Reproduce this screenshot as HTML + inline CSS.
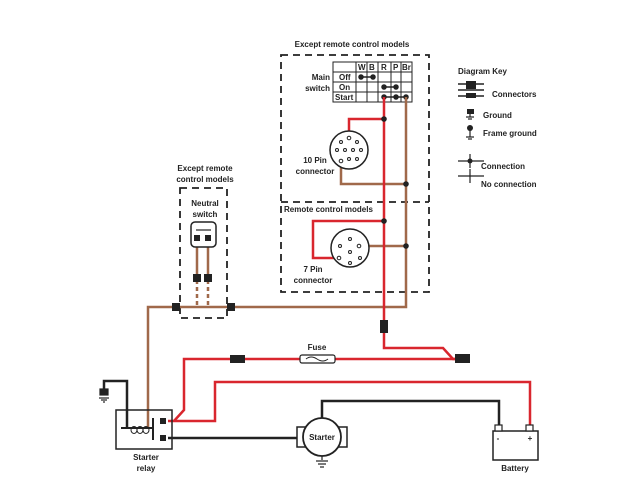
<!DOCTYPE html>
<html><head><style>body{margin:0;background:#fff}svg{display:block}text{font-family:"Liberation Sans",Arial,sans-serif;font-size:8px;font-weight:bold;fill:#222}</style></head><body>
<svg width="640" height="480" viewBox="0 0 640 480">
<rect width="640" height="480" fill="#fff"/>
<g fill="none" stroke="#222" stroke-width="1.8" stroke-dasharray="7,5">
<rect x="281" y="55" width="148" height="237"/>
<line x1="281" y1="202" x2="429" y2="202"/>
<rect x="180" y="188" width="47" height="130"/>
</g>
<text x="352" y="47" text-anchor="middle">Except remote control models</text>
<text x="284" y="212" font-weight="bold">Remote control models</text>
<text x="205" y="171" text-anchor="middle">Except remote</text>
<text x="205" y="182" text-anchor="middle">control models</text>
<text x="205" y="206" text-anchor="middle">Neutral</text>
<text x="205" y="217" text-anchor="middle">switch</text>
<g stroke="#222" stroke-width="1" fill="none">
<rect x="333" y="62" width="79" height="40"/>
<line x1="333" y1="72" x2="412" y2="72"/><line x1="333" y1="82" x2="412" y2="82"/><line x1="333" y1="92" x2="412" y2="92"/>
<line x1="356" y1="62" x2="356" y2="102"/><line x1="367" y1="62" x2="367" y2="102"/><line x1="378" y1="62" x2="378" y2="102"/><line x1="391" y1="62" x2="391" y2="102"/><line x1="401" y1="62" x2="401" y2="102"/>
</g>
<g style="font-size:7px">
<text x="358" y="70">W</text><text x="369" y="70">B</text><text x="381" y="70">R</text><text x="393" y="70">P</text><text x="402" y="70">Br</text>
<text x="339" y="80" font-weight="normal">Off</text><text x="339" y="90">On</text><text x="335" y="100">Start</text>
</g>
<text x="330" y="80" text-anchor="end">Main</text><text x="330" y="91" text-anchor="end">switch</text>
<g stroke="#222" stroke-width="1.5" fill="#222">
<line x1="361" y1="77" x2="373" y2="77"/><circle cx="361" cy="77" r="2"/><circle cx="373" cy="77" r="2"/>
<line x1="384" y1="87" x2="396" y2="87"/><circle cx="384" cy="87" r="2"/><circle cx="396" cy="87" r="2"/>
<line x1="384" y1="97" x2="406" y2="97"/><circle cx="384" cy="97" r="2"/><circle cx="396" cy="97" r="2"/><circle cx="406" cy="97" r="2"/>
</g>
<g fill="none" stroke-width="2.5" stroke-linejoin="miter">
<path d="M406 97 V307 H148 V428" stroke="#a0694a"/>
<path d="M341 161 V184 H406" stroke="#a0694a"/>
<path d="M359 246 H406" stroke="#a0694a"/>
<path d="M197 238 V280 M208 238 V280" stroke="#a0694a"/>
<path d="M197 280 V307 M208 280 V307" stroke="#a0694a" stroke-dasharray="4,3"/>
<path d="M384 97 V348 H443 L453 359 H462" stroke="#d9262e"/>
<path d="M349 138 V119 H384" stroke="#d9262e"/>
<path d="M384 221 H313 V258 H339" stroke="#d9262e"/>
<path d="M455 359 H184 V410 L174 421" stroke="#d9262e"/>
<path d="M168 421 H215 V382 H530 V425" stroke="#d9262e"/>
<path d="M104 390 V381 H127 V428" stroke="#222"/>
<path d="M168 438 H298" stroke="#222"/>
<path d="M322 418 V401 H499 V425" stroke="#222"/>
</g>
<g fill="#222">
<circle cx="384" cy="119" r="2.8"/><circle cx="406" cy="184" r="2.8"/><circle cx="384" cy="221" r="2.8"/><circle cx="406" cy="246" r="2.8"/>
<rect x="380" y="320" width="8" height="13"/>
<rect x="455" y="354" width="15" height="9"/>
<rect x="230" y="355" width="15" height="8"/>
<rect x="193" y="274" width="8" height="8"/><rect x="204" y="274" width="8" height="8"/>
<rect x="172" y="303" width="8" height="8"/><rect x="227" y="303" width="8" height="8"/>
</g>
<g stroke="#222" stroke-width="1.5" fill="#fff">
<circle cx="349" cy="150" r="19"/><circle cx="350" cy="248" r="19"/>
</g>
<g stroke="#222" stroke-width="1" fill="#fff">
<circle cx="349" cy="138" r="1.8"/><circle cx="341" cy="142" r="1.5"/><circle cx="357" cy="142" r="1.5"/>
<circle cx="337" cy="150" r="1.5"/><circle cx="345" cy="150" r="1.5"/><circle cx="353" cy="150" r="1.5"/><circle cx="361" cy="150" r="1.5"/>
<circle cx="341" cy="161" r="1.8"/><circle cx="349" cy="159" r="1.5"/><circle cx="357" cy="159" r="1.5"/>
<circle cx="350" cy="239" r="1.5"/><circle cx="340" cy="246" r="1.5"/><circle cx="359" cy="246" r="1.8"/><circle cx="350" cy="252" r="1.5"/>
<circle cx="339" cy="258" r="1.8"/><circle cx="360" cy="258" r="1.5"/><circle cx="350" cy="263" r="1.5"/>
</g>
<text x="315" y="163" text-anchor="middle">10 Pin</text><text x="315" y="174" text-anchor="middle">connector</text>
<text x="313" y="272" text-anchor="middle">7 Pin</text><text x="313" y="283" text-anchor="middle">connector</text>
<rect x="191" y="222" width="25" height="25" rx="4" fill="#fff" stroke="#222" stroke-width="1.5"/>
<line x1="196" y1="230" x2="211" y2="230" stroke="#222" stroke-width="1.2"/>
<rect x="194" y="235" width="6" height="6" fill="#222"/><rect x="205" y="235" width="6" height="6" fill="#222"/>
<text x="317" y="350" text-anchor="middle">Fuse</text>
<rect x="300" y="355" width="35" height="8" rx="2" fill="#fff" stroke="#222" stroke-width="1.2"/>
<path d="M306 359 q5 -4 11 0 t11 0" fill="none" stroke="#222" stroke-width="1"/>
<rect x="116" y="410" width="56" height="39" fill="none" stroke="#222" stroke-width="1.5"/>
<path d="M121 428 H153 M153 418 V440" stroke="#222" stroke-width="2" fill="none"/>
<g fill="none" stroke="#222" stroke-width="1"><ellipse cx="134" cy="430" rx="3" ry="3.5"/><ellipse cx="140" cy="430" rx="3" ry="3.5"/><ellipse cx="146" cy="430" rx="3" ry="3.5"/></g>
<rect x="160" y="418" width="6" height="6" fill="#222"/><rect x="160" y="435" width="6" height="6" fill="#222"/>
<text x="146" y="460" text-anchor="middle">Starter</text><text x="146" y="471" text-anchor="middle">relay</text>
<g stroke="#222" stroke-width="1.2">
<rect x="100" y="389" width="8" height="6" fill="#222"/>
<line x1="99" y1="398" x2="109" y2="398"/><line x1="101" y1="400" x2="107" y2="400"/><line x1="103" y1="402" x2="105" y2="402"/>
<line x1="322" y1="456" x2="322" y2="460"/>
<line x1="316" y1="461" x2="328" y2="461"/><line x1="318" y1="464" x2="326" y2="464"/><line x1="320" y1="467" x2="324" y2="467"/>
</g>
<rect x="297" y="427" width="50" height="20" fill="#fff" stroke="#222" stroke-width="1.5"/>
<circle cx="322" cy="437" r="19" fill="#fff" stroke="#222" stroke-width="1.8"/>
<text x="322" y="440" text-anchor="middle">Starter</text>
<rect x="493" y="431" width="45" height="29" fill="#fff" stroke="#222" stroke-width="1.5"/>
<rect x="495" y="425" width="7" height="6" fill="#fff" stroke="#222" stroke-width="1.2"/>
<rect x="526" y="425" width="7" height="6" fill="#fff" stroke="#222" stroke-width="1.2"/>
<text x="498" y="441" text-anchor="middle" font-weight="normal">-</text><text x="530" y="441" text-anchor="middle" font-weight="normal">+</text>
<text x="515" y="471" text-anchor="middle">Battery</text>
<text x="458" y="74">Diagram Key</text>
<g stroke="#222" stroke-width="1.5">
<line x1="458" y1="84" x2="484" y2="84"/><line x1="458" y1="90" x2="484" y2="90"/><line x1="458" y1="96" x2="484" y2="96"/>
</g>
<rect x="466" y="81" width="10" height="8" fill="#222"/><rect x="466" y="93" width="10" height="5" fill="#222"/>
<text x="492" y="97">Connectors</text>
<rect x="467" y="109" width="7" height="5" fill="#222"/>
<g stroke="#222" stroke-width="1.2">
<line x1="470" y1="114" x2="470" y2="117"/><line x1="466" y1="117" x2="474" y2="117"/><line x1="468" y1="119" x2="472" y2="119"/>
<line x1="470" y1="130" x2="470" y2="137"/><line x1="466" y1="137" x2="474" y2="137"/><line x1="468" y1="139" x2="472" y2="139"/>
<line x1="458" y1="161" x2="484" y2="161"/><line x1="470" y1="154" x2="470" y2="168"/>
<line x1="458" y1="176" x2="484" y2="176"/><line x1="470" y1="169" x2="470" y2="183"/>
</g>
<circle cx="470" cy="128" r="3" fill="#222"/><circle cx="470" cy="161" r="2.5" fill="#222"/>
<text x="483" y="118">Ground</text>
<text x="483" y="136">Frame ground</text>
<text x="481" y="169">Connection</text>
<text x="481" y="187">No connection</text>
</svg>
</body></html>
